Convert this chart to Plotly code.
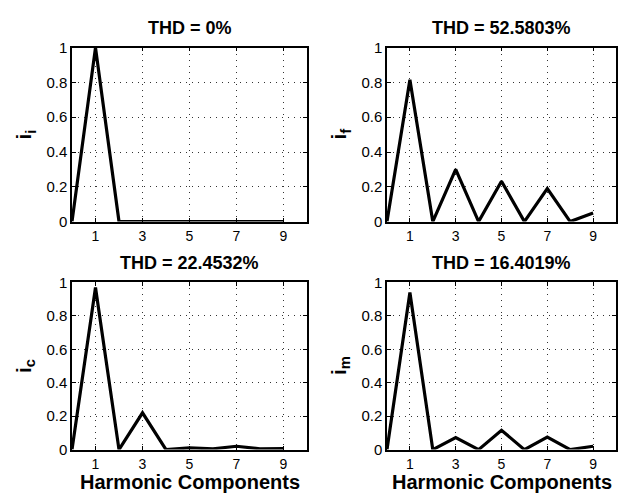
import plotly.graph_objects as go

# Harmonic order (0 = DC) and normalised magnitude of each current
harmonics = [0, 1, 2, 3, 4, 5, 6, 7, 8, 9]
i_i = [0, 1.0, 0, 0, 0, 0, 0, 0, 0, 0]
i_f = [0, 0.815, 0, 0.30, 0, 0.232, 0, 0.19, 0, 0.05]
i_c = [0, 0.97, 0, 0.22, 0, 0.01, 0.005, 0.02, 0.005, 0.006]
i_m = [0, 0.94, 0, 0.072, 0, 0.116, 0, 0.075, 0, 0.02]

titles = ["THD = 0%", "THD = 52.5803%", "THD = 22.4532%", "THD = 16.4019%"]
ylabels = ["i<sub>i</sub>", "i<sub>f</sub>", "i<sub>c</sub>", "i<sub>m</sub>"]
series = [i_i, i_f, i_c, i_m]
x_ticks = [1, 3, 5, 7, 9]
y_ticks = [0, 0.2, 0.4, 0.6, 0.8, 1]

W, H = 629, 504
FONT = "Liberation Sans, Arial, Helvetica, sans-serif"

# panel boxes in pixels: (left, right, top, bottom)
boxes = [(72, 307, 40, 220), (387, 616, 40, 220),
         (72, 307, 283, 456), (387, 616, 283, 456)]

fig = go.Figure()
annotations = []
for k, (vals, box) in enumerate(zip(series, boxes)):
    l, r, t, b = box
    xd = [l / W, r / W]
    yd = [1 - b / H, 1 - t / H]
    n = "" if k == 0 else str(k + 1)
    fig.add_trace(go.Scatter(
        x=harmonics, y=vals, mode="lines",
        line=dict(color="black", width=3.2),
        xaxis="x" + n, yaxis="y" + n, showlegend=False,
    ))
    axis_common = dict(
        showline=True, linecolor="black", linewidth=1.5, mirror="ticks",
        ticks="inside", ticklen=4, tickcolor="black",
        showgrid=True, gridcolor="#333", griddash="1px,5px", gridwidth=1,
        zeroline=False, fixedrange=True,
    )
    fig.layout["xaxis" + n] = dict(
        axis_common, domain=xd, range=[0, 10], tickvals=x_ticks,
        anchor="y" + n, ticklabelstandoff=1,
        tickfont=dict(family=FONT, size=14, color="black"),
    )
    fig.layout["yaxis" + n] = dict(
        axis_common, domain=yd, range=[0, 1], tickvals=y_ticks,
        ticktext=["0", "0.2", "0.4", "0.6", "0.8", "1"], anchor="x" + n,
        tickfont=dict(family=FONT, size=15, color="black"),
    )
    annotations.append(dict(
        text="<b>" + titles[k] + "</b>", xref="paper", yref="paper",
        x=(l + r) / 2 / W, y=1 - (t - 20) / H, showarrow=False,
        font=dict(family=FONT, size=18, color="black"),
        xanchor="center", yanchor="middle",
    ))
    annotations.append(dict(
        text="<b>" + ylabels[k] + "</b>", xref="paper", yref="paper",
        x=(l - 47) / W, y=1 - (t + b) / 2 / H, showarrow=False,
        textangle=-90, font=dict(family=FONT, size=21, color="black"),
        xanchor="center", yanchor="middle",
    ))
    if k >= 2:
        annotations.append(dict(
            text="<b>Harmonic Components</b>", xref="paper", yref="paper",
            x=(l + r) / 2 / W, y=0, showarrow=False, borderpad=0,
            font=dict(family=FONT, size=20, color="black"),
            xanchor="center", yanchor="bottom", yshift=2,
        ))

fig.update_layout(
    width=W, height=H, margin=dict(l=0, r=0, t=0, b=0),
    paper_bgcolor="white", plot_bgcolor="white",
    annotations=annotations,
)

fig.write_html("out.html")
